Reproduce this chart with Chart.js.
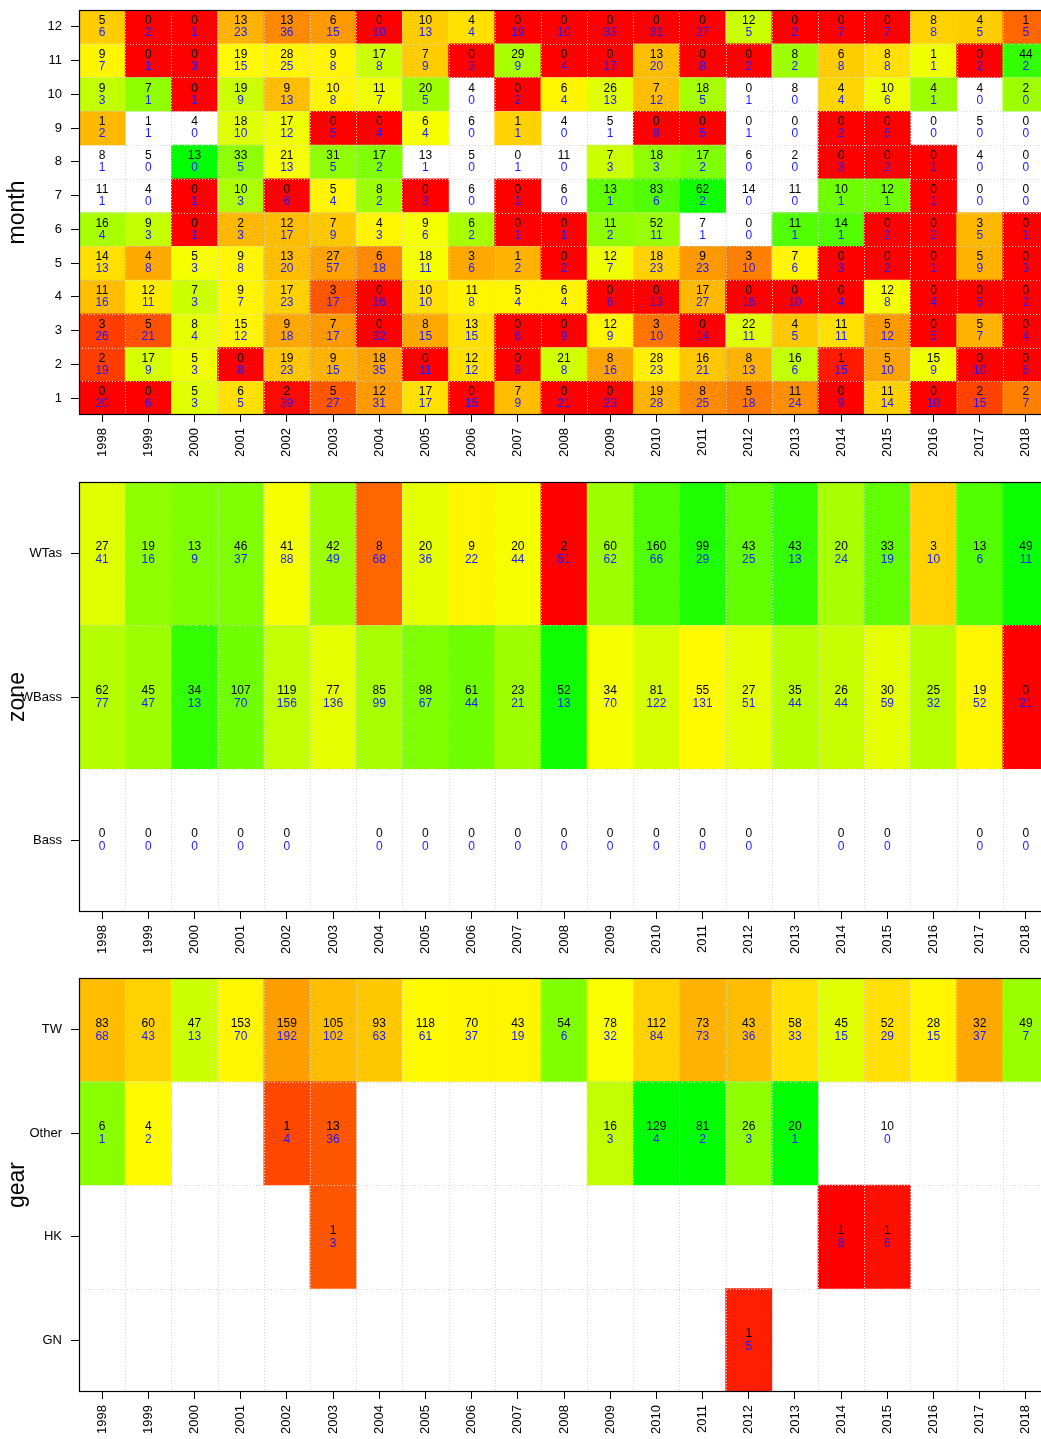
<!DOCTYPE html>
<html><head><meta charset="utf-8">
<script src="https://cdn.jsdelivr.net/npm/chart.js@4"></script>
<style>
html,body{margin:0;padding:0;background:#fff;overflow:hidden;}
#wrap{position:relative;width:1041px;height:1439px;overflow:hidden;}
canvas{position:absolute;left:0;}
</style></head><body>
<div id="wrap">
<canvas id="c1" width="1049" height="475" style="top:0;width:1049px;height:475px"></canvas>
<canvas id="c2" width="1049" height="495" style="top:475px;width:1049px;height:495px"></canvas>
<canvas id="c3" width="1049" height="469" style="top:970px;width:1049px;height:469px"></canvas>
</div>
<script>
const _ = null;
const years = ['1998','1999','2000','2001','2002','2003','2004','2005','2006','2007','2008','2009','2010','2011','2012','2013','2014','2015','2016','2017','2018'];

// ---- month panel (rows month 1..12) : black (top) numbers
const monthLabels = ['1','2','3','4','5','6','7','8','9','10','11','12'];
const monthTop = [
  [0,0,5,6,2,5,12,17,0,7,0,0,19,8,5,11,0,11,0,2,2],
  [2,17,5,0,19,9,18,0,12,0,21,8,28,16,8,16,1,5,15,0,0],
  [3,5,8,15,9,7,0,8,13,0,0,12,3,0,22,4,11,5,0,5,0],
  [11,12,7,9,17,3,0,10,11,5,6,0,0,17,0,0,0,12,0,0,0],
  [14,4,5,9,13,27,6,18,3,1,0,12,18,9,3,7,0,0,0,5,0],
  [16,9,0,2,12,7,4,9,6,0,0,11,52,7,0,11,14,0,0,3,0],
  [11,4,0,10,0,5,8,0,6,0,6,13,83,62,14,11,10,12,0,0,0],
  [8,5,13,33,21,31,17,13,5,0,11,7,18,17,6,2,0,0,0,4,0],
  [1,1,4,18,17,0,0,6,6,1,4,5,0,0,0,0,0,0,0,5,0],
  [9,7,0,19,9,10,11,20,4,0,6,26,7,18,0,8,4,10,4,4,2],
  [9,0,0,19,28,9,17,7,0,29,0,0,13,0,0,8,6,8,1,0,44],
  [5,0,0,13,13,6,0,10,4,0,0,0,0,0,12,0,0,0,8,4,1]
];
// blue (bottom) numbers
const monthBot = [
  [20,6,3,5,39,27,31,17,15,9,21,23,28,25,18,24,9,14,10,15,7],
  [19,9,3,8,23,15,35,11,12,9,8,16,23,21,13,6,15,10,9,10,6],
  [26,21,4,12,18,17,32,15,15,6,9,9,10,14,11,5,11,12,5,7,4],
  [16,11,3,7,23,17,16,10,8,4,4,6,13,27,16,10,4,8,4,5,2],
  [13,8,3,8,20,57,18,11,6,2,2,7,23,23,10,6,3,2,1,9,3],
  [4,3,1,3,17,9,3,6,2,1,1,2,11,1,0,1,1,2,2,5,1],
  [1,0,1,3,6,4,2,3,0,1,0,1,6,2,0,0,1,1,1,0,0],
  [1,0,0,5,13,5,2,1,0,1,0,3,3,2,0,0,3,2,1,0,0],
  [2,1,0,10,12,5,4,4,0,1,0,1,8,5,1,0,2,6,0,0,0],
  [3,1,1,9,13,8,7,5,0,2,4,13,12,5,1,0,4,6,1,0,0],
  [7,1,3,15,25,8,8,9,3,9,4,17,20,8,2,2,8,8,1,2,2],
  [6,2,1,23,36,15,10,13,4,19,10,33,31,27,5,2,7,7,8,5,5]
];
// colour score (0 = red, 0.5 = yellow, 1 = green, null = white)
const monthScore = [
  [0,0,0.56,0.44,0.02,0.17,0.3,0.44,0,0.37,0,0,0.35,0.27,0.24,0.28,0,0.41,0,0.13,0.25],
  [0.12,0.58,0.53,0,0.39,0.35,0.32,0,0.44,0,0.59,0.32,0.47,0.39,0.35,0.62,0.05,0.32,0.53,0,0],
  [0.12,0.16,0.55,0.48,0.33,0.3,0,0.33,0.44,0,0,0.48,0.23,0,0.56,0.39,0.44,0.3,0,0.35,0],
  [0.37,0.46,0.6,0.48,0.41,0.17,0,0.44,0.48,0.48,0.48,0,0,0.36,0,0,0,0.52,0,0,0],
  [0.44,0.33,0.52,0.48,0.37,0.32,0.27,0.52,0.33,0.35,0,0.53,0.41,0.3,0.25,0.48,0,0,0,0.35,0],
  [0.67,0.62,0,0.36,0.37,0.39,0.48,0.52,0.67,0,0,0.72,0.7,_,_,0.84,0.84,0,0,0.36,0],
  [_,_,0,0.66,0,0.48,0.69,0,_,0,_,0.81,0.84,0.97,_,_,0.78,0.78,0,_,_],
  [_,_,1,0.72,0.52,0.72,0.75,_,_,_,_,0.6,0.72,0.75,_,_,0,0,0,_,_],
  [0.36,_,_,0.56,0.53,0,0,0.52,_,0.41,_,_,0,0,_,_,0,0,_,_,_],
  [0.62,0.72,0,0.6,0.37,0.48,0.53,0.69,_,0,0.48,0.56,0.37,0.67,_,_,0.42,0.53,0.69,_,0.69],
  [0.48,0,0,0.49,0.48,0.48,0.6,0.4,0,0.67,0,0,0.37,0,0,0.69,0.4,0.44,0.53,0,0.9],
  [0.4,0,0,0.35,0.27,0.3,0,0.4,0.44,0,0,0,0,0,0.6,0,0,0,0.41,0.4,0.2]
];

// ---- zone panel (rows bottom->top: Bass, WBass, WTas)
const zoneLabels = ['Bass','WBass','WTas'];
const bassTop   = [0,0,0,0,0,_,0,0,0,0,0,0,0,0,0,_,0,0,_,0,0];
const bassBot   = [0,0,0,0,0,_,0,0,0,0,0,0,0,0,0,_,0,0,_,0,0];
const bassScore = [_,_,_,_,_,_,_,_,_,_,_,_,_,_,_,_,_,_,_,_,_];
const wbassTop   = [62,45,34,107,119,77,85,98,61,23,52,34,81,55,27,35,26,30,25,19,0];
const wbassBot   = [77,47,13,70,156,136,99,67,44,21,13,70,122,131,51,44,44,59,32,52,21];
const wbassScore = [0.65,0.69,0.9,0.78,0.62,0.55,0.67,0.75,0.78,0.69,0.97,0.52,0.58,0.49,0.55,0.64,0.61,0.55,0.64,0.48,0];
const wtasTop   = [27,19,13,46,41,42,8,20,9,20,2,60,160,99,43,43,20,33,3,13,49];
const wtasBot   = [41,16,9,37,88,49,68,36,22,44,51,62,66,29,25,13,24,19,10,6,11];
const wtasScore = [0.56,0.72,0.75,0.75,0.52,0.69,0.2,0.55,0.48,0.52,0,0.69,0.84,0.94,0.81,0.9,0.67,0.81,0.41,0.84,0.98];

// ---- gear panel (rows bottom->top: GN, HK, Other, TW)
const gearLabels = ['GN','HK','Other','TW'];
const gnTop   = [_,_,_,_,_,_,_,_,_,_,_,_,_,_,1,_,_,_,_,_,_];
const gnBot   = [_,_,_,_,_,_,_,_,_,_,_,_,_,_,5,_,_,_,_,_,_];
const gnScore = [_,_,_,_,_,_,_,_,_,_,_,_,_,_,0.06,_,_,_,_,_,_];
const hkTop   = [_,_,_,_,_,1,_,_,_,_,_,_,_,_,_,_,1,1,_,_,_];
const hkBot   = [_,_,_,_,_,3,_,_,_,_,_,_,_,_,_,_,8,6,_,_,_];
const hkScore = [_,_,_,_,_,0.17,_,_,_,_,_,_,_,_,_,_,0,0.03,_,_,_];
const otherTop   = [6,4,_,_,1,13,_,_,_,_,_,16,129,81,26,20,_,10,_,_,_];
const otherBot   = [1,2,_,_,4,36,_,_,_,_,_,3,4,2,3,1,_,0,_,_,_];
const otherScore = [0.73,0.49,_,_,0.14,0.17,_,_,_,_,_,0.62,1,1,0.72,1,_,_,_,_,_];
const twTop   = [83,60,47,153,159,105,93,118,70,43,54,78,112,73,43,58,45,52,28,32,49];
const twBot   = [68,43,13,70,192,102,63,61,37,19,6,32,84,73,36,33,15,29,15,37,7];
const twScore = [0.37,0.41,0.6,0.48,0.31,0.37,0.39,0.49,0.48,0.48,0.75,0.51,0.41,0.35,0.37,0.44,0.56,0.44,0.48,0.33,0.7];

Chart.defaults.font.family = '"Liberation Sans", Arial, Helvetica, sans-serif';
Chart.defaults.color = '#000';

function scoreColor(s){
  if (s === null) return 'rgba(0,0,0,0)';
  let r, g;
  if (s < 0.5) { r = 255; g = Math.round(510 * s); }
  else { r = Math.round(510 * (1 - s)); g = 255; }
  return 'rgb(' + r + ',' + g + ',0)';
}

function buildPanel(id, p){
  const n = p.labels.length;
  const datasets = p.score.map((row, k) => ({
    data: row.map(s => s === null ? null : [k + 0.5, k + 1.5]),
    backgroundColor: row.map(scoreColor),
    borderWidth: 0,
    grouped: false,
    barPercentage: 1,
    categoryPercentage: 1
  }));
  const cellPlugin = {
    id: 'cells' + id,
    afterDatasetsDraw(chart){
      const ctx = chart.ctx, a = chart.chartArea, x = chart.scales.x, y = chart.scales.y;
      ctx.save();
      ctx.strokeStyle = '#d6d6d6';
      ctx.lineWidth = 1;
      ctx.setLineDash([1, 2]);
      for (let i = 1; i < years.length; i++) {
        const xx = Math.round((x.getPixelForValue(i - 1) + x.getPixelForValue(i)) / 2) + 0.5;
        ctx.beginPath(); ctx.moveTo(xx, a.top); ctx.lineTo(xx, a.bottom); ctx.stroke();
      }
      for (let k = 1; k < n; k++) {
        const yy = Math.round(y.getPixelForValue(k + 0.5)) + 0.5;
        ctx.beginPath(); ctx.moveTo(a.left, yy); ctx.lineTo(a.right, yy); ctx.stroke();
      }
      ctx.setLineDash([]);
      ctx.font = '12px "Liberation Sans", Arial, sans-serif';
      ctx.textAlign = 'center';
      ctx.textBaseline = 'middle';
      p.top.forEach((row, k) => {
        row.forEach((v, i) => {
          if (v === null) return;
          const cx = x.getPixelForValue(i), cy = y.getPixelForValue(k + 1);
          ctx.fillStyle = '#000';
          ctx.fillText(String(v), cx, cy - p.dy);
          ctx.fillStyle = '#1a1aff';
          ctx.fillText(String(p.bot[k][i]), cx, cy + p.dy);
        });
      });
      ctx.strokeStyle = '#000';
      ctx.lineWidth = 1.2;
      ctx.strokeRect(a.left + 0.5, a.top + 0.5, a.right - a.left - 1, a.bottom - a.top - 1);
      ctx.restore();
    }
  };
  return new Chart(document.getElementById(id), {
    type: 'bar',
    data: { labels: years, datasets: datasets },
    options: {
      responsive: false, animation: false, devicePixelRatio: 1,
      layout: { padding: { top: p.padTop, right: 0, left: 0, bottom: 0 } },
      plugins: { legend: { display: false }, tooltip: { enabled: false } },
      scales: {
        x: {
          type: 'category', offset: true,
          grid: { drawOnChartArea: false, offset: false, tickLength: 7, color: '#000' },
          border: { display: false },
          ticks: { minRotation: 90, maxRotation: 90, autoSkip: false, padding: 6, font: { size: 13 }, color: '#000' },
          afterFit(s){ s.height = p.xH; s.paddingLeft = 0; s.paddingRight = 0; }
        },
        y: {
          type: 'linear', min: 0.5, max: n + 0.5,
          afterBuildTicks(s){ s.ticks = p.labels.map((l, k) => ({ value: k + 1 })); },
          ticks: { callback: (v) => p.labels[Math.round(v) - 1], padding: 9, font: { size: 13 }, color: '#000' },
          grid: { drawOnChartArea: false, tickLength: 8, color: '#000' },
          border: { display: false },
          title: { display: true, text: p.title, font: { size: 23 }, color: '#000', padding: { top: 4, bottom: 0 } },
          afterFit(s){ s.width = 79; s.paddingTop = 0; s.paddingBottom = 0; }
        }
      }
    },
    plugins: [cellPlugin]
  });
}

buildPanel('c1', { labels: monthLabels, top: monthTop, bot: monthBot, score: monthScore, title: 'month', padTop: 10, xH: 60, dy: 6 });
buildPanel('c2', { labels: zoneLabels, top: [bassTop, wbassTop, wtasTop], bot: [bassBot, wbassBot, wtasBot], score: [bassScore, wbassScore, wtasScore], title: 'zone', padTop: 7, xH: 58, dy: 6.5 });
buildPanel('c3', { labels: gearLabels, top: [gnTop, hkTop, otherTop, twTop], bot: [gnBot, hkBot, otherBot, twBot], score: [gnScore, hkScore, otherScore, twScore], title: 'gear', padTop: 8, xH: 47, dy: 6.5 });
</script>
</body></html>
